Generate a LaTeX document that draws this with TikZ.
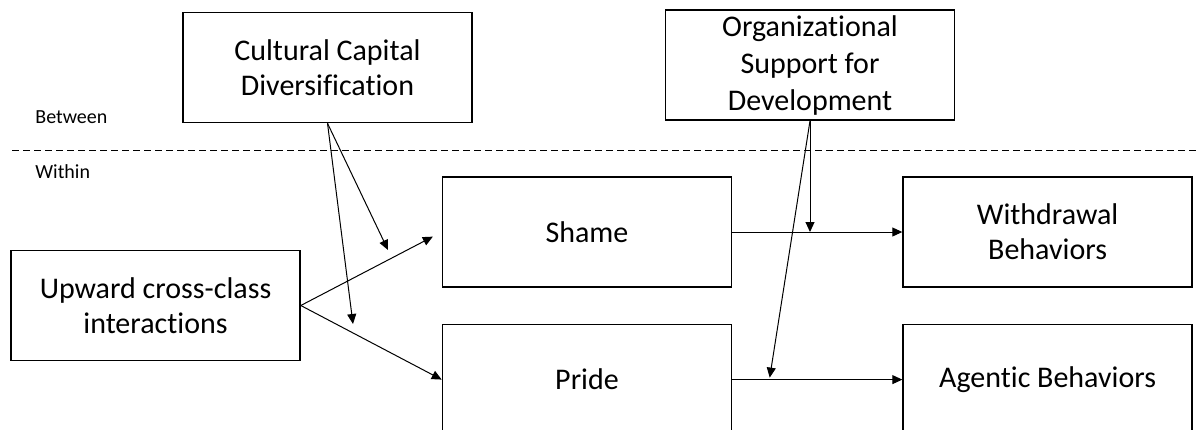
\documentclass[tikz,border=0pt]{standalone}
\usepackage{fontspec}
\setmainfont{Carlito}[Ligatures=NoCommon]
\usetikzlibrary{arrows.meta,positioning,calc}

\begin{document}
\begin{tikzpicture}[x=0.5pt, y=-0.5pt,
  varbox/.style={draw=black, line width=0.8pt, minimum width=144.5pt, minimum height=55pt, align=center, inner sep=1pt, font=\fontsize{15}{17.5}\selectfont},
  lvlabel/.style={anchor=west, inner sep=0pt, font=\fontsize{10}{12}\selectfont},
  divider/.style={line width=0.5pt, dash pattern=on 3.5pt off 2pt},
  arr/.style={-{Triangle[length=5pt, width=4.5pt]}, line width=0.5pt}
]
\useasboundingbox (0,0) rectangle (1198,429);
\node[varbox] (up) at (155.5,305.5) {Upward cross-class\\interactions};
\node[varbox] (shame) at (587,232) {Shame};
\node[varbox, below=18pt of shame] (pride) {Pride};
\node[varbox, right=85pt of shame] (withd) {Withdrawal\\Behaviors};
\node[varbox, right=85pt of pride] (agent) {Agentic Behaviors};
\node[varbox] (ccd) at (327.5,67.5) {Cultural Capital\\Diversification};
\node[varbox, font=\fontsize{15}{18.5}\selectfont] (org) at (810,65) {Organizational\\Support for\\Development};
\node[lvlabel] (betw) at (35,117) {Between};
\node[lvlabel] (with) at (35,172) {Within};
\coordinate (dl) at (12,150);
\coordinate (dr) at (1198,150);
\coordinate (m1) at (388,250);
\coordinate (m2) at (353,324);
\draw[divider] (dl) -- (dr);
\draw[arr, shorten >=5pt] (up.east) -- (shame.west);
\draw[arr] (up.east) -- (pride.west);
\draw[arr] (ccd.south) -- (m1);
\draw[arr] (ccd.south) -- (m2);
\draw[arr] (shame) -- (withd);
\draw[arr] (pride) -- (agent);
\draw[arr] (org.south) -- (org.south |- shame.east);
\draw[arr] (org.south) -- ($(pride.east)!0.22!(agent.west)+(0,-2)$);
\end{tikzpicture}
\end{document}
